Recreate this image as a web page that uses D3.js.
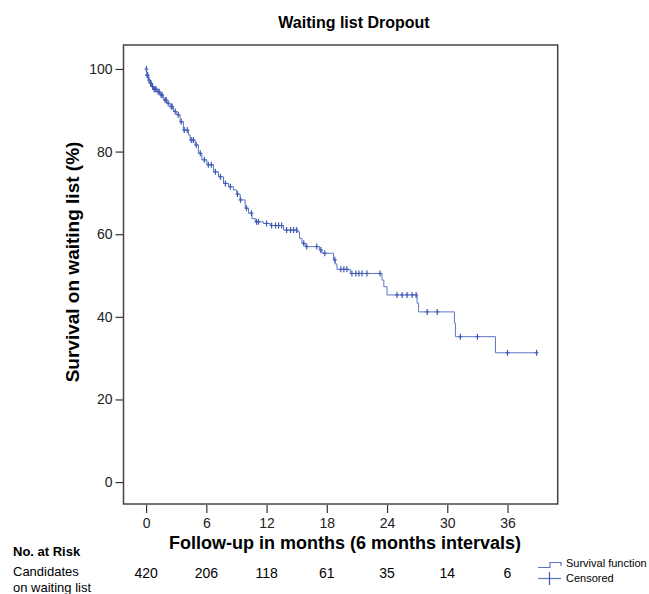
<html>
    <head>
        <script src="https://d3js.org/d3.v7.min.js"></script>
        <style>
body {
    margin: 0;
    background-color: #fff;
}
text {
    font-family: "Liberation Sans", Arial, sans-serif;
}
        </style>
    </head>
    <body>
        <div id="chart"></div>
        <script>
// Kaplan-Meier steps (months, % surviving)
var stepTimes = [0, 0.07, 0.23, 0.40, 0.57, 0.73, 1.07, 1.40, 1.72, 2.06, 2.39, 2.72, 3.06, 3.39, 3.72,
    4.22, 4.39, 4.89, 5.21, 5.55, 6.05, 6.71, 7.21, 7.71, 8.21, 8.70, 9.04, 9.37, 9.87, 10.20,
    10.54, 10.87, 11.67, 12.36, 13.69, 15.02, 15.28, 15.52, 15.85, 17.28, 17.52, 18.67, 18.84,
    19.01, 20.34, 23.50, 23.68, 24.0, 26.99, 27.15, 30.71, 30.81, 34.80, 38.9];
var stepSurvival = [100, 98.5, 97.3, 96.5, 95.7, 95.1, 94.5, 93.7, 92.5, 91.7, 90.9, 89.7, 88.9, 87.2, 85.2,
    84.0, 82.8, 81.6, 79.6, 78.0, 76.8, 75.1, 73.9, 72.3, 71.5, 70.7, 69.7, 68.3, 66.3, 65.1,
    63.8, 63.0, 62.6, 62.1, 61.0, 60.6, 59.0, 57.8, 57.0, 56.2, 55.4, 53.8, 52.8,
    51.5, 50.5, 48.9, 47.3, 45.3, 43.3, 41.2, 38.5, 35.2, 31.3, 31.3];
var censorTimes = [0.03, 0.1, 0.15, 0.3, 0.45, 0.5, 0.65, 0.8, 0.9, 1.0, 1.2, 1.3, 1.5, 1.6, 1.9, 2.0,
    2.2, 2.5, 2.6, 2.9, 3.2, 3.5, 3.8, 4.1, 4.5, 4.7, 5.0, 5.4, 5.8, 6.2, 6.5, 6.9, 7.4, 7.9,
    8.4, 9.1, 9.4, 10.0, 10.5, 11.0, 11.2, 12.0, 12.5, 12.9, 13.2, 13.5, 14.0, 14.4, 14.7,
    15.0, 15.7, 16.0, 17.0, 17.4, 17.8, 18.8, 19.4, 19.7, 20.0, 20.5, 20.9, 21.2, 21.5, 22.0,
    23.3, 25.0, 25.5, 26.0, 26.5, 26.9, 28.0, 29.0, 31.3, 33.0, 36.0, 38.9];

var xTicks = [0, 6, 12, 18, 24, 30, 36];
var yTicks = [0, 20, 40, 60, 80, 100];
var atRisk = [420, 206, 118, 61, 35, 14, 6];

var lineColor = "#5d76c4";
var markColor = "#3d58b3";

var svg = d3.select("#chart")
    .append("svg")
    .attr("width", 649)
    .attr("height", 594);

var x = d3.scaleLinear().domain([-2.25, 41]).range([123.5, 557.7]);
var y = d3.scaleLinear().domain([-5.3, 105.8]).range([504, 45]);

// survival value at a time (step function)
function survAt(t) {
    var s = stepSurvival[0];
    for (var i = 0; i < stepTimes.length; i++) {
        if (stepTimes[i] <= t) s = stepSurvival[i];
    }
    return s;
}

// title
svg.append("text")
    .attr("x", 354)
    .attr("y", 28)
    .attr("text-anchor", "middle")
    .style("font-size", "16px")
    .style("font-weight", "bold")
    .text("Waiting list Dropout");

// y axis
var yAxis = svg.append("g")
    .attr("transform", "translate(123.5,0)")
    .call(d3.axisLeft(y).tickValues(yTicks).tickSize(8).tickPadding(3));
yAxis.select(".domain").remove();
yAxis.selectAll("line").attr("stroke", "#333").attr("stroke-width", 1.2);
yAxis.selectAll("text")
    .style("font-size", "14px")
    .style("font-family", "'Liberation Sans', Arial, sans-serif")
    .attr("fill", "#222");

// x axis
var xAxis = svg.append("g")
    .attr("transform", "translate(0,505)")
    .call(d3.axisBottom(x).tickValues(xTicks).tickSize(8).tickPadding(5));
xAxis.select(".domain").remove();
xAxis.selectAll("line").attr("stroke", "#333").attr("stroke-width", 1.2);
xAxis.selectAll("text")
    .style("font-size", "14px")
    .style("font-family", "'Liberation Sans', Arial, sans-serif")
    .attr("fill", "#222");

// frame
svg.append("rect")
    .attr("x", x.range()[0])
    .attr("y", y.range()[1])
    .attr("width", x.range()[1] - x.range()[0])
    .attr("height", y.range()[0] - y.range()[1])
    .attr("fill", "none")
    .attr("stroke", "#444")
    .attr("stroke-width", 1.5);

// survival curve
var line = d3.line()
    .x(function(d) { return x(d[0]); })
    .y(function(d) { return y(d[1]); })
    .curve(d3.curveStepAfter);

svg.append("path")
    .datum(stepTimes.map(function(t, i) { return [t, stepSurvival[i]]; }))
    .attr("d", line)
    .attr("fill", "none")
    .attr("stroke", lineColor)
    .attr("stroke-width", 1);

// censored marks
var marks = svg.selectAll(".censor")
    .data(censorTimes)
    .enter().append("g")
    .attr("class", "censor")
    .attr("transform", function(d) { return "translate(" + x(d) + "," + y(survAt(d)) + ")"; });
marks.append("line")
    .attr("x1", 0).attr("x2", 0)
    .attr("y1", -3).attr("y2", 3)
    .attr("stroke", markColor)
    .attr("stroke-width", 1.2);
marks.append("line")
    .attr("x1", -2).attr("x2", 2)
    .attr("y1", 0).attr("y2", 0)
    .attr("stroke", markColor)
    .attr("stroke-width", 1);

// axis titles
svg.append("text")
    .attr("transform", "translate(79,262) rotate(-90)")
    .attr("text-anchor", "middle")
    .style("font-size", "19px")
    .style("font-weight", "bold")
    .text("Survival on waiting list (%)");

svg.append("text")
    .attr("x", 345)
    .attr("y", 549)
    .attr("text-anchor", "middle")
    .style("font-size", "18px")
    .style("font-weight", "bold")
    .text("Follow-up in months (6 months intervals)");

// numbers at risk
svg.append("text")
    .attr("x", 13)
    .attr("y", 556)
    .style("font-size", "13px")
    .style("font-weight", "bold")
    .text("No. at Risk");
svg.append("text")
    .attr("x", 13)
    .attr("y", 576)
    .style("font-size", "13px")
    .text("Candidates");
svg.append("text")
    .attr("x", 13)
    .attr("y", 592)
    .style("font-size", "13px")
    .text("on waiting list");

svg.selectAll(".risk")
    .data(atRisk)
    .enter().append("text")
    .attr("class", "risk")
    .attr("x", function(d, i) { return x(xTicks[i]); })
    .attr("y", 578)
    .attr("text-anchor", "middle")
    .style("font-size", "14px")
    .text(function(d) { return d; });

// legend
var legend = svg.append("g").attr("transform", "translate(538,0)");
legend.append("path")
    .attr("d", "M0,567.5H12V562.5H23V566")
    .attr("fill", "none")
    .attr("stroke", lineColor)
    .attr("stroke-width", 1.2);
legend.append("line")
    .attr("x1", 0).attr("x2", 23)
    .attr("y1", 578.5).attr("y2", 578.5)
    .attr("stroke", lineColor)
    .attr("stroke-width", 1.2);
legend.append("line")
    .attr("x1", 11.5).attr("x2", 11.5)
    .attr("y1", 572).attr("y2", 585)
    .attr("stroke", markColor)
    .attr("stroke-width", 1.2);
legend.append("text")
    .attr("x", 28)
    .attr("y", 567)
    .style("font-size", "11px")
    .text("Survival function");
legend.append("text")
    .attr("x", 28)
    .attr("y", 582)
    .style("font-size", "11px")
    .text("Censored");
        </script>
    </body>
</html>
